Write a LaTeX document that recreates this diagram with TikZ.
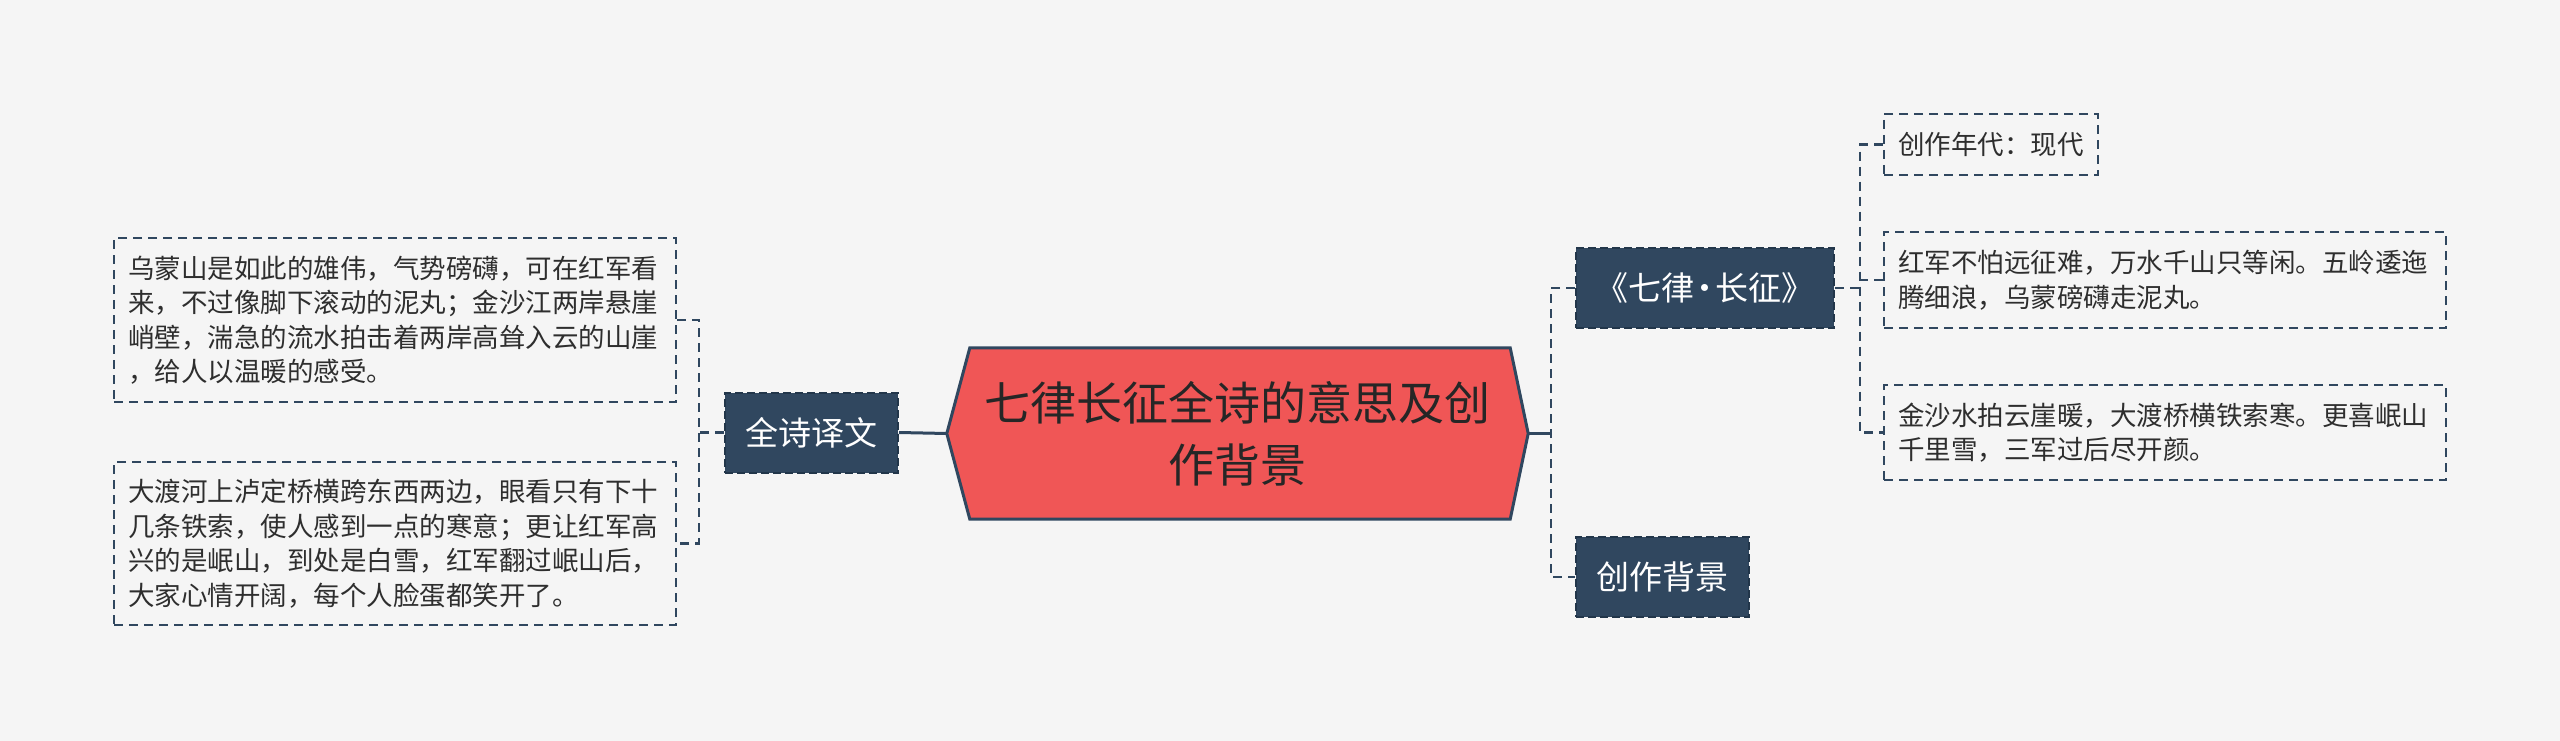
\documentclass[tikz,border=0pt]{standalone}
\usepackage{fontspec}
\setmainfont{Noto Sans CJK SC}
\usetikzlibrary{calc}
\definecolor{bgc}{HTML}{F5F5F5}
\definecolor{navy}{HTML}{30475F}
\definecolor{navyb}{HTML}{22364A}
\definecolor{rootred}{HTML}{F05656}
\definecolor{txt}{HTML}{2E2E2E}
\tikzset{
  leaf/.style={draw=navy, line width=2.2pt, dash pattern=on 9pt off 6pt, text=txt,
    font=\fontsize{26.5}{34.5}\selectfont, align=left, inner xsep=14pt, inner ysep=0pt},
  darknode/.style={fill=navy, draw=navyb, line width=2pt, dash pattern=on 8pt off 4pt,
    text=white, font=\fontsize{33}{40}\selectfont, inner sep=0pt, minimum height=80pt},
  rootbox/.style={inner sep=0pt, minimum width=581pt, minimum height=171pt,
    text=black!85, align=center, font=\fontsize{46}{62}\selectfont},
  rootshape/.style={fill=rootred, draw=navy, line width=3pt, line join=miter},
  solidcon/.style={draw=navy, line width=3pt},
  dashcon/.style={draw=navy, line width=2.5pt, dash pattern=on 9pt off 6pt}
}
\begin{document}
\begin{tikzpicture}[x=1pt, y=-1pt]
\path[fill=bgc] (0,0) rectangle (2560,741);
\useasboundingbox (0,0) rectangle (2560,741);

% root
\node[rootbox] (root) at (1237.5,433.5) {};
\path[rootshape] (root.west) -- ($(root.north west)+(23,0)$) -- ($(root.north east)+(-18,0)$)
  -- (root.east) -- ($(root.south east)+(-18,0)$) -- ($(root.south west)+(23,0)$) -- cycle;
\node[rootbox] at (root.center) {七律长征全诗的意思及创\\作背景};

% left branch
\node[darknode, minimum width=173pt] (quan) at (811.5,432.5) {全诗译文};
\node[leaf, text width=534pt, minimum height=164pt] (leafa) at (395,320) {乌蒙山是如此的雄伟，气势磅礴，可在红军看\\来，不过像脚下滚动的泥丸；金沙江两岸悬崖\\峭壁，湍急的流水拍击着两岸高耸入云的山崖\\，给人以温暖的感受。};
\node[leaf, text width=534pt, minimum height=163pt] (leafb) at (395,543.5) {大渡河上泸定桥横跨东西两边，眼看只有下十\\几条铁索，使人感到一点的寒意；更让红军高\\兴的是岷山，到处是白雪，红军翻过岷山后，\\大家心情开阔，每个人脸蛋都笑开了。};

% right branch
\node[darknode, minimum width=258pt] (qilv) at (1705,288) {《七律\kern-6pt·\kern-6pt长征》};
\node[darknode, minimum width=173pt] (bj) at (1662.5,577) {创作背景};
\node[leaf, minimum width=214pt, minimum height=61pt] (ra) at (1991,144.5) {创作年代：现代};
\node[leaf, text width=534pt, minimum height=96pt] (rb) at (2165,280) {红军不怕远征难，万水千山只等闲。五岭逶迤\\腾细浪，乌蒙磅礴走泥丸。};
\node[leaf, text width=534pt, minimum height=95pt] (rc) at (2165,432.5) {金沙水拍云崖暖，大渡桥横铁索寒。更喜岷山\\千里雪，三军过后尽开颜。};

% joints
\coordinate (lj) at (699,432.5);
\coordinate (rj) at (1551,433.5);
\coordinate (qj) at (1860,288);

% connectors
\draw[solidcon] (root.west) -- (quan.east);
\draw[dashcon] (quan.west) -- (lj);
\draw[dashcon] (leafa.east) -| (lj) |- (leafb.east);

\draw[solidcon] (root.east) -- (rj);
\draw[dashcon] (qilv.west) -| (rj) |- (bj.west);

\draw[dashcon] (qilv.east) -- (qj);
\draw[dashcon] (ra.west) -| (qj) |- (rc.west);
\draw[dashcon] (rb.west) -- (rb.west -| qj);
\end{tikzpicture}
\end{document}
